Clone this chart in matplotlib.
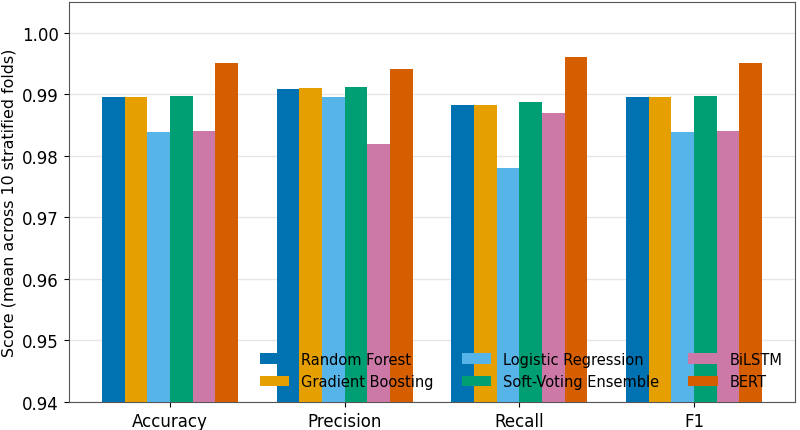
import matplotlib
matplotlib.use("Agg")
import matplotlib.pyplot as plt
import numpy as np

metrics = ["Accuracy", "Precision", "Recall", "F1"]
models = ["Random Forest", "Gradient Boosting", "Logistic Regression",
          "Soft-Voting Ensemble", "BiLSTM", "BERT"]
colors = ["#0072B2", "#E69F00", "#56B4E9", "#009E73", "#CC79A7", "#D55E00"]

random_forest = [0.9896, 0.9908, 0.9883, 0.9896]
gradient_boosting = [0.9896, 0.9910, 0.9882, 0.9896]
logistic_regression = [0.9839, 0.9896, 0.9781, 0.9838]
soft_voting = [0.9898, 0.9912, 0.9887, 0.9898]
bilstm = [0.9841, 0.9820, 0.9870, 0.9841]
bert = [0.9951, 0.9941, 0.9960, 0.9951]

scores = [random_forest, gradient_boosting, logistic_regression,
          soft_voting, bilstm, bert]

fig = plt.figure(figsize=(8, 4.31), dpi=100)
ax = fig.add_axes([0.086, 0.065, 0.908, 0.928])

x = np.arange(len(metrics))
width = 0.13
for i, (name, vals) in enumerate(zip(models, scores)):
    ax.bar(x + (i - 2.5) * width, vals, width, label=name, color=colors[i], zorder=3)

ax.set_ylim(0.94, 1.005)
ax.set_yticks(np.arange(0.94, 1.0001, 0.01))
ax.set_xticks(x)
ax.set_xticklabels(metrics)
ax.tick_params(labelsize=12)
ax.set_ylabel("Score (mean across 10 stratified folds)", fontsize=11.4)
ax.yaxis.grid(True, color="#e6e6e6", linewidth=1, zorder=0)
ax.set_axisbelow(True)
for s in ax.spines.values():
    s.set_color("#555555")

ax.legend(ncol=3, loc="lower right", frameon=False, fontsize=10.5,
          bbox_to_anchor=(1.0, 0.0))

fig.savefig("out.png", dpi=100)
